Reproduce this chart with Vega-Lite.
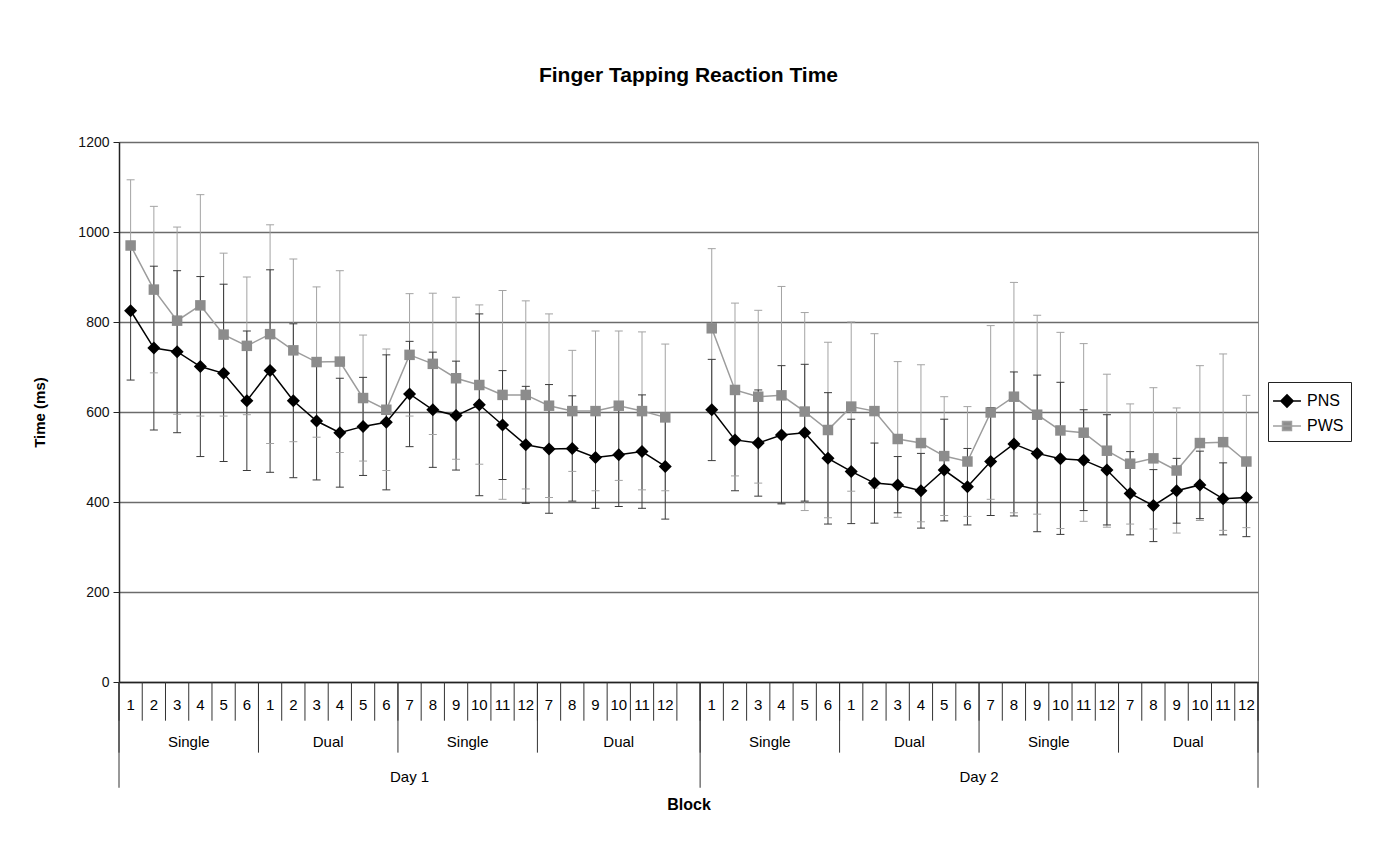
{
  "$schema": "https://vega.github.io/schema/vega-lite/v6.json",
  "width": 1139,
  "height": 540,
  "autosize": {"type": "none"},
  "padding": {"left": 119, "top": 142, "right": 133, "bottom": 181},
  "background": "white",
  "title": {"text": "Finger Tapping Reaction Time", "fontSize": 21, "fontWeight": "bold", "anchor": "middle", "frame": "group", "baseline": "alphabetic", "offset": 32, "color": "#000"},
  "config": {
    "font": "Liberation Sans",
    "view": {"stroke": "#8a8a8a", "strokeWidth": 1}
  },
  "datasets": {
    "cats": [
      {"idx": 1, "day": "Day 1", "cond": "Single", "set": "A", "block": "1"},
      {"idx": 2, "day": "Day 1", "cond": "Single", "set": "A", "block": "2"},
      {"idx": 3, "day": "Day 1", "cond": "Single", "set": "A", "block": "3"},
      {"idx": 4, "day": "Day 1", "cond": "Single", "set": "A", "block": "4"},
      {"idx": 5, "day": "Day 1", "cond": "Single", "set": "A", "block": "5"},
      {"idx": 6, "day": "Day 1", "cond": "Single", "set": "A", "block": "6"},
      {"idx": 7, "day": "Day 1", "cond": "Dual", "set": "A", "block": "1"},
      {"idx": 8, "day": "Day 1", "cond": "Dual", "set": "A", "block": "2"},
      {"idx": 9, "day": "Day 1", "cond": "Dual", "set": "A", "block": "3"},
      {"idx": 10, "day": "Day 1", "cond": "Dual", "set": "A", "block": "4"},
      {"idx": 11, "day": "Day 1", "cond": "Dual", "set": "A", "block": "5"},
      {"idx": 12, "day": "Day 1", "cond": "Dual", "set": "A", "block": "6"},
      {"idx": 13, "day": "Day 1", "cond": "Single", "set": "B", "block": "7"},
      {"idx": 14, "day": "Day 1", "cond": "Single", "set": "B", "block": "8"},
      {"idx": 15, "day": "Day 1", "cond": "Single", "set": "B", "block": "9"},
      {"idx": 16, "day": "Day 1", "cond": "Single", "set": "B", "block": "10"},
      {"idx": 17, "day": "Day 1", "cond": "Single", "set": "B", "block": "11"},
      {"idx": 18, "day": "Day 1", "cond": "Single", "set": "B", "block": "12"},
      {"idx": 19, "day": "Day 1", "cond": "Dual", "set": "B", "block": "7"},
      {"idx": 20, "day": "Day 1", "cond": "Dual", "set": "B", "block": "8"},
      {"idx": 21, "day": "Day 1", "cond": "Dual", "set": "B", "block": "9"},
      {"idx": 22, "day": "Day 1", "cond": "Dual", "set": "B", "block": "10"},
      {"idx": 23, "day": "Day 1", "cond": "Dual", "set": "B", "block": "11"},
      {"idx": 24, "day": "Day 1", "cond": "Dual", "set": "B", "block": "12"},
      {"idx": 25, "day": "Day 1", "cond": "Dual", "set": "B", "block": ""},
      {"idx": 26, "day": "Day 2", "cond": "Single", "set": "A", "block": "1"},
      {"idx": 27, "day": "Day 2", "cond": "Single", "set": "A", "block": "2"},
      {"idx": 28, "day": "Day 2", "cond": "Single", "set": "A", "block": "3"},
      {"idx": 29, "day": "Day 2", "cond": "Single", "set": "A", "block": "4"},
      {"idx": 30, "day": "Day 2", "cond": "Single", "set": "A", "block": "5"},
      {"idx": 31, "day": "Day 2", "cond": "Single", "set": "A", "block": "6"},
      {"idx": 32, "day": "Day 2", "cond": "Dual", "set": "A", "block": "1"},
      {"idx": 33, "day": "Day 2", "cond": "Dual", "set": "A", "block": "2"},
      {"idx": 34, "day": "Day 2", "cond": "Dual", "set": "A", "block": "3"},
      {"idx": 35, "day": "Day 2", "cond": "Dual", "set": "A", "block": "4"},
      {"idx": 36, "day": "Day 2", "cond": "Dual", "set": "A", "block": "5"},
      {"idx": 37, "day": "Day 2", "cond": "Dual", "set": "A", "block": "6"},
      {"idx": 38, "day": "Day 2", "cond": "Single", "set": "B", "block": "7"},
      {"idx": 39, "day": "Day 2", "cond": "Single", "set": "B", "block": "8"},
      {"idx": 40, "day": "Day 2", "cond": "Single", "set": "B", "block": "9"},
      {"idx": 41, "day": "Day 2", "cond": "Single", "set": "B", "block": "10"},
      {"idx": 42, "day": "Day 2", "cond": "Single", "set": "B", "block": "11"},
      {"idx": 43, "day": "Day 2", "cond": "Single", "set": "B", "block": "12"},
      {"idx": 44, "day": "Day 2", "cond": "Dual", "set": "B", "block": "7"},
      {"idx": 45, "day": "Day 2", "cond": "Dual", "set": "B", "block": "8"},
      {"idx": 46, "day": "Day 2", "cond": "Dual", "set": "B", "block": "9"},
      {"idx": 47, "day": "Day 2", "cond": "Dual", "set": "B", "block": "10"},
      {"idx": 48, "day": "Day 2", "cond": "Dual", "set": "B", "block": "11"},
      {"idx": 49, "day": "Day 2", "cond": "Dual", "set": "B", "block": "12"}
    ],
    "bounds": [
      {"at": 0.5, "kind": "day"}, {"at": 1.5, "kind": "block"}, {"at": 2.5, "kind": "block"}, {"at": 3.5, "kind": "block"}, {"at": 4.5, "kind": "block"}, {"at": 5.5, "kind": "block"},
      {"at": 6.5, "kind": "group"}, {"at": 7.5, "kind": "block"}, {"at": 8.5, "kind": "block"}, {"at": 9.5, "kind": "block"}, {"at": 10.5, "kind": "block"}, {"at": 11.5, "kind": "block"},
      {"at": 12.5, "kind": "group"}, {"at": 13.5, "kind": "block"}, {"at": 14.5, "kind": "block"}, {"at": 15.5, "kind": "block"}, {"at": 16.5, "kind": "block"}, {"at": 17.5, "kind": "block"},
      {"at": 18.5, "kind": "group"}, {"at": 19.5, "kind": "block"}, {"at": 20.5, "kind": "block"}, {"at": 21.5, "kind": "block"}, {"at": 22.5, "kind": "block"}, {"at": 23.5, "kind": "block"}, {"at": 24.5, "kind": "block"},
      {"at": 25.5, "kind": "day"}, {"at": 26.5, "kind": "block"}, {"at": 27.5, "kind": "block"}, {"at": 28.5, "kind": "block"}, {"at": 29.5, "kind": "block"}, {"at": 30.5, "kind": "block"},
      {"at": 31.5, "kind": "group"}, {"at": 32.5, "kind": "block"}, {"at": 33.5, "kind": "block"}, {"at": 34.5, "kind": "block"}, {"at": 35.5, "kind": "block"}, {"at": 36.5, "kind": "block"},
      {"at": 37.5, "kind": "group"}, {"at": 38.5, "kind": "block"}, {"at": 39.5, "kind": "block"}, {"at": 40.5, "kind": "block"}, {"at": 41.5, "kind": "block"}, {"at": 42.5, "kind": "block"},
      {"at": 43.5, "kind": "group"}, {"at": 44.5, "kind": "block"}, {"at": 45.5, "kind": "block"}, {"at": 46.5, "kind": "block"}, {"at": 47.5, "kind": "block"}, {"at": 48.5, "kind": "block"},
      {"at": 49.5, "kind": "day"}
    ],
    "obs": [
      {"idx": 1, "day": "Day 1", "group": "PWS", "time": 970, "lo": 824, "hi": 1116},
      {"idx": 2, "day": "Day 1", "group": "PWS", "time": 872, "lo": 687, "hi": 1057},
      {"idx": 3, "day": "Day 1", "group": "PWS", "time": 803, "lo": 595, "hi": 1011},
      {"idx": 4, "day": "Day 1", "group": "PWS", "time": 837, "lo": 591, "hi": 1083},
      {"idx": 5, "day": "Day 1", "group": "PWS", "time": 772, "lo": 591, "hi": 953},
      {"idx": 6, "day": "Day 1", "group": "PWS", "time": 747, "lo": 594, "hi": 900},
      {"idx": 7, "day": "Day 1", "group": "PWS", "time": 773, "lo": 530, "hi": 1016},
      {"idx": 8, "day": "Day 1", "group": "PWS", "time": 737, "lo": 534, "hi": 940},
      {"idx": 9, "day": "Day 1", "group": "PWS", "time": 711, "lo": 544, "hi": 878},
      {"idx": 10, "day": "Day 1", "group": "PWS", "time": 712, "lo": 510, "hi": 914},
      {"idx": 11, "day": "Day 1", "group": "PWS", "time": 631, "lo": 491, "hi": 771},
      {"idx": 12, "day": "Day 1", "group": "PWS", "time": 605, "lo": 470, "hi": 740},
      {"idx": 13, "day": "Day 1", "group": "PWS", "time": 727, "lo": 591, "hi": 863},
      {"idx": 14, "day": "Day 1", "group": "PWS", "time": 707, "lo": 550, "hi": 864},
      {"idx": 15, "day": "Day 1", "group": "PWS", "time": 675, "lo": 495, "hi": 855},
      {"idx": 16, "day": "Day 1", "group": "PWS", "time": 660, "lo": 484, "hi": 838},
      {"idx": 17, "day": "Day 1", "group": "PWS", "time": 638, "lo": 406, "hi": 870},
      {"idx": 18, "day": "Day 1", "group": "PWS", "time": 638, "lo": 429, "hi": 847},
      {"idx": 19, "day": "Day 1", "group": "PWS", "time": 614, "lo": 410, "hi": 818},
      {"idx": 20, "day": "Day 1", "group": "PWS", "time": 602, "lo": 468, "hi": 737},
      {"idx": 21, "day": "Day 1", "group": "PWS", "time": 602, "lo": 425, "hi": 780},
      {"idx": 22, "day": "Day 1", "group": "PWS", "time": 614, "lo": 448, "hi": 780},
      {"idx": 23, "day": "Day 1", "group": "PWS", "time": 602, "lo": 427, "hi": 778},
      {"idx": 24, "day": "Day 1", "group": "PWS", "time": 588, "lo": 425, "hi": 751},
      {"idx": 26, "day": "Day 2", "group": "PWS", "time": 786, "lo": 610, "hi": 963},
      {"idx": 27, "day": "Day 2", "group": "PWS", "time": 649, "lo": 458, "hi": 842},
      {"idx": 28, "day": "Day 2", "group": "PWS", "time": 634, "lo": 442, "hi": 826},
      {"idx": 29, "day": "Day 2", "group": "PWS", "time": 637, "lo": 396, "hi": 879},
      {"idx": 30, "day": "Day 2", "group": "PWS", "time": 601, "lo": 381, "hi": 821},
      {"idx": 31, "day": "Day 2", "group": "PWS", "time": 560, "lo": 365, "hi": 755},
      {"idx": 32, "day": "Day 2", "group": "PWS", "time": 612, "lo": 424, "hi": 800},
      {"idx": 33, "day": "Day 2", "group": "PWS", "time": 602, "lo": 431, "hi": 774},
      {"idx": 34, "day": "Day 2", "group": "PWS", "time": 540, "lo": 366, "hi": 712},
      {"idx": 35, "day": "Day 2", "group": "PWS", "time": 531, "lo": 356, "hi": 705},
      {"idx": 36, "day": "Day 2", "group": "PWS", "time": 502, "lo": 370, "hi": 634},
      {"idx": 37, "day": "Day 2", "group": "PWS", "time": 490, "lo": 368, "hi": 612},
      {"idx": 38, "day": "Day 2", "group": "PWS", "time": 599, "lo": 406, "hi": 792},
      {"idx": 39, "day": "Day 2", "group": "PWS", "time": 634, "lo": 376, "hi": 888},
      {"idx": 40, "day": "Day 2", "group": "PWS", "time": 594, "lo": 373, "hi": 815},
      {"idx": 41, "day": "Day 2", "group": "PWS", "time": 559, "lo": 341, "hi": 777},
      {"idx": 42, "day": "Day 2", "group": "PWS", "time": 554, "lo": 357, "hi": 752},
      {"idx": 43, "day": "Day 2", "group": "PWS", "time": 514, "lo": 344, "hi": 684},
      {"idx": 44, "day": "Day 2", "group": "PWS", "time": 485, "lo": 351, "hi": 618},
      {"idx": 45, "day": "Day 2", "group": "PWS", "time": 497, "lo": 340, "hi": 654},
      {"idx": 46, "day": "Day 2", "group": "PWS", "time": 470, "lo": 331, "hi": 609},
      {"idx": 47, "day": "Day 2", "group": "PWS", "time": 531, "lo": 359, "hi": 703},
      {"idx": 48, "day": "Day 2", "group": "PWS", "time": 533, "lo": 337, "hi": 729},
      {"idx": 49, "day": "Day 2", "group": "PWS", "time": 490, "lo": 343, "hi": 637},
      {"idx": 1, "day": "Day 1", "group": "PNS", "time": 825, "lo": 671, "hi": 979},
      {"idx": 2, "day": "Day 1", "group": "PNS", "time": 742, "lo": 560, "hi": 924},
      {"idx": 3, "day": "Day 1", "group": "PNS", "time": 734, "lo": 554, "hi": 914},
      {"idx": 4, "day": "Day 1", "group": "PNS", "time": 701, "lo": 501, "hi": 901},
      {"idx": 5, "day": "Day 1", "group": "PNS", "time": 686, "lo": 490, "hi": 884},
      {"idx": 6, "day": "Day 1", "group": "PNS", "time": 625, "lo": 470, "hi": 780},
      {"idx": 7, "day": "Day 1", "group": "PNS", "time": 692, "lo": 466, "hi": 916},
      {"idx": 8, "day": "Day 1", "group": "PNS", "time": 625, "lo": 454, "hi": 796},
      {"idx": 9, "day": "Day 1", "group": "PNS", "time": 580, "lo": 449, "hi": 711},
      {"idx": 10, "day": "Day 1", "group": "PNS", "time": 554, "lo": 433, "hi": 675},
      {"idx": 11, "day": "Day 1", "group": "PNS", "time": 568, "lo": 459, "hi": 677},
      {"idx": 12, "day": "Day 1", "group": "PNS", "time": 577, "lo": 427, "hi": 727},
      {"idx": 13, "day": "Day 1", "group": "PNS", "time": 640, "lo": 523, "hi": 757},
      {"idx": 14, "day": "Day 1", "group": "PNS", "time": 605, "lo": 477, "hi": 733},
      {"idx": 15, "day": "Day 1", "group": "PNS", "time": 592, "lo": 471, "hi": 713},
      {"idx": 16, "day": "Day 1", "group": "PNS", "time": 616, "lo": 414, "hi": 818},
      {"idx": 17, "day": "Day 1", "group": "PNS", "time": 571, "lo": 450, "hi": 692},
      {"idx": 18, "day": "Day 1", "group": "PNS", "time": 527, "lo": 397, "hi": 657},
      {"idx": 19, "day": "Day 1", "group": "PNS", "time": 518, "lo": 375, "hi": 661},
      {"idx": 20, "day": "Day 1", "group": "PNS", "time": 519, "lo": 402, "hi": 636},
      {"idx": 21, "day": "Day 1", "group": "PNS", "time": 499, "lo": 386, "hi": 612},
      {"idx": 22, "day": "Day 1", "group": "PNS", "time": 505, "lo": 390, "hi": 620},
      {"idx": 23, "day": "Day 1", "group": "PNS", "time": 512, "lo": 386, "hi": 638},
      {"idx": 24, "day": "Day 1", "group": "PNS", "time": 479, "lo": 362, "hi": 596},
      {"idx": 26, "day": "Day 2", "group": "PNS", "time": 605, "lo": 492, "hi": 717},
      {"idx": 27, "day": "Day 2", "group": "PNS", "time": 538, "lo": 425, "hi": 651},
      {"idx": 28, "day": "Day 2", "group": "PNS", "time": 531, "lo": 413, "hi": 649},
      {"idx": 29, "day": "Day 2", "group": "PNS", "time": 549, "lo": 396, "hi": 703},
      {"idx": 30, "day": "Day 2", "group": "PNS", "time": 554, "lo": 402, "hi": 706},
      {"idx": 31, "day": "Day 2", "group": "PNS", "time": 497, "lo": 351, "hi": 643},
      {"idx": 32, "day": "Day 2", "group": "PNS", "time": 468, "lo": 352, "hi": 584},
      {"idx": 33, "day": "Day 2", "group": "PNS", "time": 442, "lo": 353, "hi": 531},
      {"idx": 34, "day": "Day 2", "group": "PNS", "time": 438, "lo": 376, "hi": 501},
      {"idx": 35, "day": "Day 2", "group": "PNS", "time": 425, "lo": 342, "hi": 508},
      {"idx": 36, "day": "Day 2", "group": "PNS", "time": 471, "lo": 358, "hi": 584},
      {"idx": 37, "day": "Day 2", "group": "PNS", "time": 434, "lo": 349, "hi": 519},
      {"idx": 38, "day": "Day 2", "group": "PNS", "time": 490, "lo": 370, "hi": 610},
      {"idx": 39, "day": "Day 2", "group": "PNS", "time": 529, "lo": 369, "hi": 689},
      {"idx": 40, "day": "Day 2", "group": "PNS", "time": 508, "lo": 334, "hi": 682},
      {"idx": 41, "day": "Day 2", "group": "PNS", "time": 496, "lo": 328, "hi": 666},
      {"idx": 42, "day": "Day 2", "group": "PNS", "time": 493, "lo": 381, "hi": 605},
      {"idx": 43, "day": "Day 2", "group": "PNS", "time": 471, "lo": 349, "hi": 594},
      {"idx": 44, "day": "Day 2", "group": "PNS", "time": 419, "lo": 327, "hi": 512},
      {"idx": 45, "day": "Day 2", "group": "PNS", "time": 392, "lo": 312, "hi": 472},
      {"idx": 46, "day": "Day 2", "group": "PNS", "time": 425, "lo": 353, "hi": 497},
      {"idx": 47, "day": "Day 2", "group": "PNS", "time": 438, "lo": 363, "hi": 513},
      {"idx": 48, "day": "Day 2", "group": "PNS", "time": 407, "lo": 327, "hi": 487},
      {"idx": 49, "day": "Day 2", "group": "PNS", "time": 410, "lo": 323, "hi": 497}
    ]
  },
  "layer": [
    {
      "data": {"name": "obs"},
      "mark": {"type": "rule", "strokeWidth": 1},
      "encoding": {
        "x": {"field": "idx", "type": "quantitative", "title": "Block",
          "scale": {"domain": [0.5, 49.5], "nice": false, "zero": false},
          "axis": {"labels": false, "ticks": false, "grid": false, "domainColor": "#222", "domainWidth": 1.5, "titleFontSize": 16, "titleFontWeight": "bold", "titleColor": "#000", "titlePadding": 114}},
        "y": {"field": "lo", "type": "quantitative", "title": "Time (ms)",
          "scale": {"domain": [0, 1200], "nice": false, "zero": false},
          "axis": {"values": [0, 200, 400, 600, 800, 1000, 1200], "format": "d", "grid": true, "gridColor": "#6b6b6b", "gridWidth": 1.5, "domainColor": "#222", "domainWidth": 1.5, "tickColor": "#222", "tickSize": 6, "labelFontSize": 14, "labelColor": "#111", "labelPadding": 4, "titleFontSize": 15, "titleFontWeight": "bold", "titleColor": "#000", "titlePadding": 30}},
        "y2": {"field": "hi"},
        "color": {"condition": {"test": "datum.group === 'PNS'", "value": "#3a3a3a"}, "value": "#a3a3a3"}
      }
    },
    {
      "data": {"name": "obs"},
      "mark": {"type": "tick", "orient": "horizontal", "size": 8, "thickness": 1, "opacity": 1},
      "encoding": {
        "x": {"field": "idx", "type": "quantitative", "title": "Block"},
        "y": {"field": "lo", "type": "quantitative", "title": "Time (ms)"},
        "color": {"condition": {"test": "datum.group === 'PNS'", "value": "#3a3a3a"}, "value": "#a3a3a3"}
      }
    },
    {
      "data": {"name": "obs"},
      "mark": {"type": "tick", "orient": "horizontal", "size": 8, "thickness": 1, "opacity": 1},
      "encoding": {
        "x": {"field": "idx", "type": "quantitative", "title": "Block"},
        "y": {"field": "hi", "type": "quantitative", "title": "Time (ms)"},
        "color": {"condition": {"test": "datum.group === 'PNS'", "value": "#3a3a3a"}, "value": "#a3a3a3"}
      }
    },
    {
      "data": {"name": "obs"},
      "mark": {"type": "line", "strokeWidth": 1.5},
      "encoding": {
        "x": {"field": "idx", "type": "quantitative", "title": "Block"},
        "y": {"field": "time", "type": "quantitative", "title": "Time (ms)"},
        "detail": [{"field": "group", "type": "nominal"}, {"field": "day", "type": "nominal"}],
        "color": {"condition": {"test": "datum.group === 'PNS'", "value": "#000000"}, "value": "#9c9c9c"}
      }
    },
    {
      "data": {"name": "obs"},
      "mark": {"type": "point", "filled": true, "opacity": 1},
      "encoding": {
        "x": {"field": "idx", "type": "quantitative", "title": "Block"},
        "y": {"field": "time", "type": "quantitative", "title": "Time (ms)"},
        "color": {"condition": {"test": "datum.group === 'PNS'", "value": "#000000"}, "value": "#8c8c8c"},
        "shape": {"condition": {"test": "datum.group === 'PNS'", "value": "diamond"}, "value": "square"},
        "size": {"condition": {"test": "datum.group === 'PNS'", "value": 170}, "value": 110}
      }
    },
    {
      "data": {"name": "obs"},
      "transform": [{"filter": "false"}],
      "mark": {"type": "point", "filled": false, "opacity": 1, "strokeWidth": 1.5, "size": 500},
      "encoding": {
        "x": {"field": "idx", "type": "quantitative", "title": "Block"},
        "y": {"field": "time", "type": "quantitative", "title": "Time (ms)"},
        "fill": {"field": "group", "type": "nominal", "title": null,
          "scale": {"domain": ["PNS", "PWS"], "range": ["#000000", "#8c8c8c"]},
          "legend": {"title": null, "orient": "none", "legendX": 1149, "legendY": 240, "strokeColor": "#222", "padding": 7, "labelFontSize": 16, "labelColor": "#000", "labelOffset": 8, "symbolSize": 500, "symbolStrokeWidth": 1.5, "rowPadding": 3}},
        "stroke": {"field": "group", "type": "nominal", "title": null,
          "scale": {"domain": ["PNS", "PWS"], "range": ["#000000", "#a0a0a0"]},
          "legend": {"title": null, "orient": "none", "legendX": 1149, "legendY": 240, "strokeColor": "#222", "padding": 7, "labelFontSize": 16, "labelColor": "#000", "labelOffset": 8, "symbolSize": 500, "symbolStrokeWidth": 1.5, "rowPadding": 3}},
        "shape": {"field": "group", "type": "nominal", "title": null,
          "scale": {"domain": ["PNS", "PWS"], "range": ["M-1.25,0H1.25M0,-0.55L0.55,0L0,0.55L-0.55,0Z", "M-1.25,0H1.25M-0.4,-0.4H0.4V0.4H-0.4Z"]},
          "legend": {"title": null, "orient": "none", "legendX": 1149, "legendY": 240, "strokeColor": "#222", "padding": 7, "labelFontSize": 16, "labelColor": "#000", "labelOffset": 8, "symbolSize": 500, "symbolStrokeWidth": 1.5, "rowPadding": 3}}
      }
    },
    {
      "data": {"name": "bounds"},
      "mark": {"type": "rule", "color": "#333", "strokeWidth": 1},
      "encoding": {
        "x": {"field": "at", "type": "quantitative", "title": "Block"},
        "y": {"datum": 0},
        "y2": {"datum": -86}
      }
    },
    {
      "data": {"name": "bounds"},
      "transform": [{"filter": "datum.kind !== 'block'"}],
      "mark": {"type": "rule", "color": "#333", "strokeWidth": 1},
      "encoding": {
        "x": {"field": "at", "type": "quantitative", "title": "Block"},
        "y": {"datum": 0},
        "y2": {"datum": -157}
      }
    },
    {
      "data": {"name": "bounds"},
      "transform": [{"filter": "datum.kind === 'day'"}],
      "mark": {"type": "rule", "color": "#333", "strokeWidth": 1},
      "encoding": {
        "x": {"field": "at", "type": "quantitative", "title": "Block"},
        "y": {"datum": 0},
        "y2": {"datum": -235}
      }
    },
    {
      "data": {"name": "cats"},
      "mark": {"type": "text", "fontSize": 15, "color": "#000", "baseline": "middle", "align": "center"},
      "encoding": {
        "x": {"field": "idx", "type": "quantitative", "title": "Block"},
        "y": {"datum": -52},
        "text": {"field": "block"}
      }
    },
    {
      "data": {"name": "cats"},
      "transform": [{"aggregate": [{"op": "mean", "field": "idx", "as": "mid"}], "groupby": ["day", "cond", "set"]}],
      "mark": {"type": "text", "fontSize": 15, "color": "#000", "baseline": "middle", "align": "center"},
      "encoding": {
        "x": {"field": "mid", "type": "quantitative", "title": "Block"},
        "y": {"datum": -134},
        "text": {"field": "cond"}
      }
    },
    {
      "data": {"name": "cats"},
      "transform": [{"aggregate": [{"op": "mean", "field": "idx", "as": "mid"}], "groupby": ["day"]}],
      "mark": {"type": "text", "fontSize": 15, "color": "#000", "baseline": "middle", "align": "center"},
      "encoding": {
        "x": {"field": "mid", "type": "quantitative", "title": "Block"},
        "y": {"datum": -211},
        "text": {"field": "day"}
      }
    }
  ]
}
